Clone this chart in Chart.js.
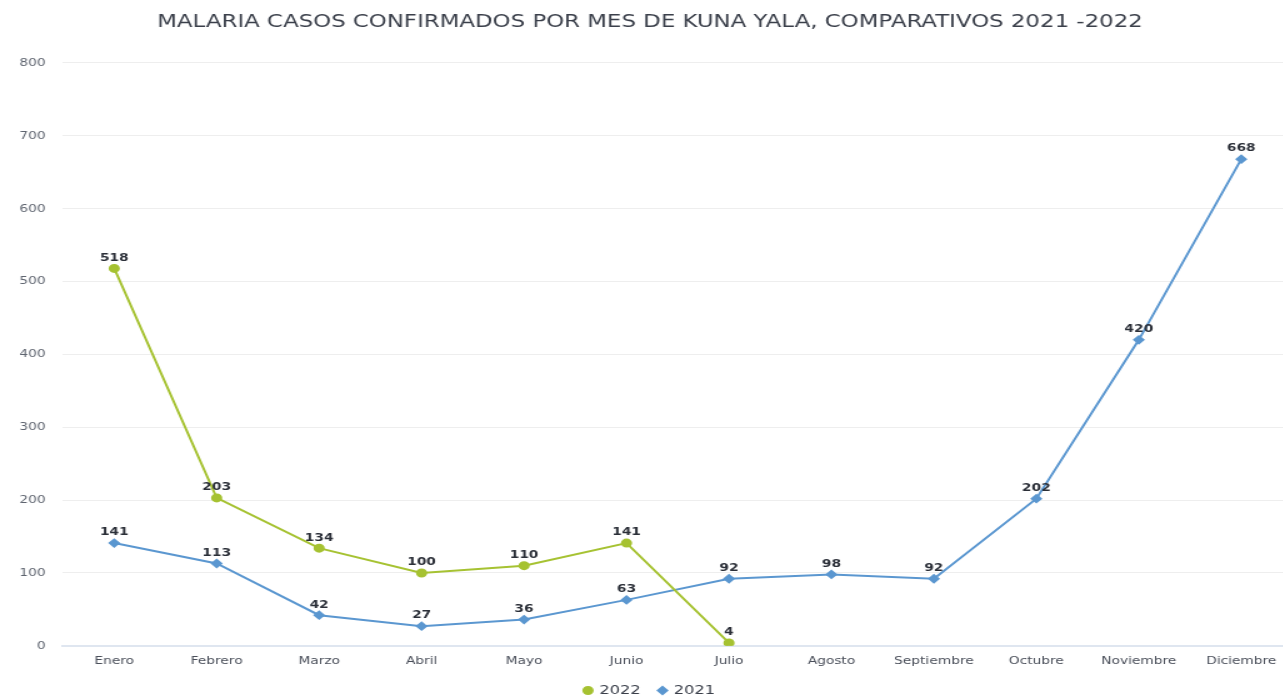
<!DOCTYPE html>
<html>
<head>
<meta charset="utf-8">
<script src="https://cdn.jsdelivr.net/npm/chart.js@4"></script>
<style>
  html, body { margin: 0; padding: 0; background: #fff; overflow: hidden; }
  #chart { display: block; width: 1300px; height: 698px; }
</style>
</head>
<body>
<canvas id="chart" width="1040" height="698" style="width:1300px;height:698px"></canvas>
<script>
// --- Data ---
const months = ['Enero', 'Febrero', 'Marzo', 'Abril', 'Mayo', 'Junio', 'Julio', 'Agosto', 'Septiembre', 'Octubre', 'Noviembre', 'Diciembre'];
const cases2022 = [518, 203, 134, 100, 110, 141, 4, null, null, null, null, null];
const cases2021 = [141, 113, 42, 27, 36, 63, 92, 98, 92, 202, 420, 668];
const yTicks = [0, 100, 200, 300, 400, 500, 600, 700, 800];

const STRETCH = 1300 / 1040; // canvas is drawn narrow and stretched wide

// value labels above each point
const pointLabels = {
    id: 'pointLabels',
    afterDatasetsDraw(chart) {
        const ctx = chart.ctx;
        ctx.save();
        ctx.font = 'bold 11px "DejaVu Sans"';
        ctx.fillStyle = '#2b2f38';
        ctx.textAlign = 'center';
        ctx.textBaseline = 'bottom';
        chart.data.datasets.forEach((ds, i) => {
            chart.getDatasetMeta(i).data.forEach((pt, j) => {
                if (ds.data[j] == null) return;
                ctx.fillText(ds.data[j], pt.x, pt.y - 5);
            });
        });
        ctx.restore();
    }
};

new Chart(document.getElementById('chart').getContext('2d'), {
    type: 'line',
    data: {
        labels: months,
        datasets: [{
            label: '2022',
            data: cases2022,
            borderColor: '#a6c232',
            backgroundColor: '#a6c232',
            borderWidth: 2,
            pointStyle: 'circle',
            pointRadius: 3.5,
            tension: 0
        }, {
            label: '2021',
            data: cases2021,
            borderColor: '#5b97d0',
            backgroundColor: '#5b97d0',
            borderWidth: 2,
            pointStyle: 'rectRot',
            pointRadius: 3.5,
            tension: 0
        }]
    },
    options: {
        responsive: false,
        devicePixelRatio: 1,
        animation: false,
        layout: { padding: { top: 11, right: 0, bottom: -9, left: 0 } },
        scales: {
            x: {
                offset: true,
                grid: { display: false },
                border: { color: '#dfe6f0', width: 2 },
                ticks: { color: '#4a4f5a', font: { family: 'DejaVu Sans', size: 11 }, padding: 1, maxRotation: 0 }
            },
            y: {
                min: 0,
                max: 800,
                afterBuildTicks(scale) { scale.ticks = yTicks.map(v => ({ value: v })); },
                afterFit(scale) { scale.width = 63 / STRETCH; },
                grid: { color: '#eeeeee', drawTicks: false },
                border: { display: false },
                ticks: { color: '#5f6570', font: { family: 'DejaVu Sans', size: 11 }, padding: 14 }
            }
        },
        plugins: {
            title: {
                display: true,
                text: 'MALARIA CASOS CONFIRMADOS POR MES DE KUNA YALA, COMPARATIVOS 2021 -2022',
                color: '#3a3f4a',
                font: { family: 'DejaVu Sans', size: 18.3, weight: 'normal' },
                padding: { top: 0, bottom: 30 }
            },
            legend: {
                position: 'bottom',
                labels: {
                    usePointStyle: true,
                    boxWidth: 5,
                    boxHeight: 5,
                    color: '#3a3f4a',
                    font: { family: 'DejaVu Sans', size: 13 },
                    padding: 15
                }
            },
            tooltip: { enabled: false }
        }
    },
    plugins: [pointLabels]
});
</script>
</body>
</html>
